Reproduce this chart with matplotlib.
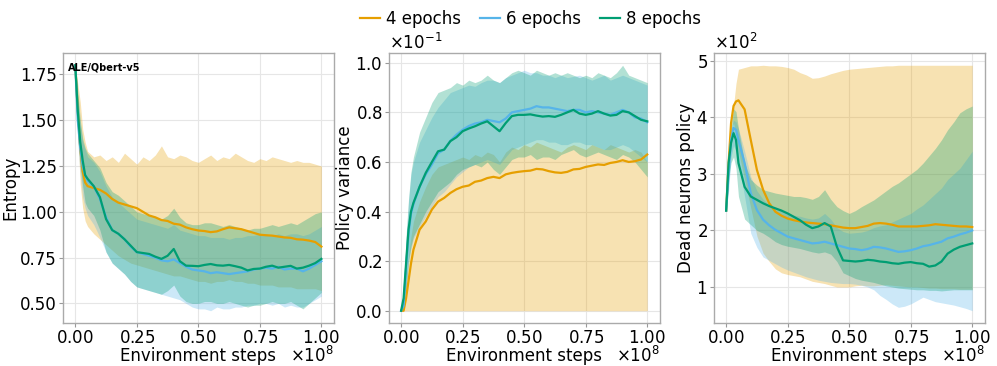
import numpy as np
import matplotlib
matplotlib.use("Agg")
import matplotlib.pyplot as plt

# environment steps, in millions
steps_m = [0, 1, 2, 3, 4, 5, 7.5, 10, 12.5, 15, 17.5, 20, 22.5, 25, 27.5, 30, 32.5, 35,
           37.5, 40, 42.5, 45, 47.5, 50, 52.5, 55, 57.5, 60, 62.5, 65, 67.5, 70, 72.5,
           75, 77.5, 80, 82.5, 85, 87.5, 90, 92.5, 95, 97.5, 100]

labels = ["4 epochs", "6 epochs", "8 epochs"]
colors = ["#E69F00", "#56B4E9", "#009E73"]

# ---- Entropy ----
ent_4_mean = [1.80, 1.55, 1.35, 1.22, 1.16, 1.14, 1.13, 1.12, 1.10, 1.07, 1.05, 1.04, 1.03, 1.02, 1.00,
              0.98, 0.97, 0.955, 0.95, 0.935, 0.93, 0.915, 0.905, 0.898, 0.895, 0.889, 0.893, 0.905,
              0.915, 0.91, 0.905, 0.895, 0.885, 0.875, 0.872, 0.87, 0.865, 0.86, 0.858, 0.85, 0.848,
              0.843, 0.835, 0.81]
ent_4_hi = [1.80, 1.70, 1.60, 1.45, 1.38, 1.33, 1.30, 1.31, 1.28, 1.30, 1.27, 1.32, 1.29, 1.26, 1.30,
            1.28, 1.31, 1.36, 1.30, 1.29, 1.31, 1.30, 1.28, 1.27, 1.29, 1.31, 1.28, 1.30, 1.29, 1.32,
            1.30, 1.28, 1.27, 1.29, 1.28, 1.30, 1.29, 1.28, 1.27, 1.28, 1.27, 1.27, 1.26, 1.25]
ent_4_lo = [1.80, 1.42, 1.15, 1.02, 0.95, 0.92, 0.88, 0.85, 0.82, 0.79, 0.76, 0.74, 0.72, 0.71, 0.70,
            0.69, 0.68, 0.67, 0.66, 0.65, 0.65, 0.64, 0.63, 0.62, 0.62, 0.61, 0.62, 0.62, 0.63, 0.62,
            0.62, 0.61, 0.61, 0.60, 0.60, 0.60, 0.59, 0.59, 0.59, 0.58, 0.58, 0.58, 0.58, 0.57]
ent_6_mean = [1.80, 1.50, 1.35, 1.25, 1.20, 1.17, 1.14, 1.07, 0.97, 0.90, 0.88, 0.85, 0.81, 0.78, 0.77,
              0.76, 0.75, 0.735, 0.73, 0.74, 0.72, 0.70, 0.685, 0.68, 0.675, 0.665, 0.67, 0.665, 0.66,
              0.665, 0.67, 0.675, 0.685, 0.69, 0.695, 0.69, 0.70, 0.685, 0.69, 0.69, 0.675, 0.69,
              0.71, 0.73]
ent_6_hi = [1.80, 1.62, 1.48, 1.38, 1.34, 1.30, 1.27, 1.22, 1.14, 1.08, 1.05, 1.02, 0.99, 0.96, 0.95,
            0.94, 0.93, 0.92, 0.91, 0.93, 0.90, 0.89, 0.88, 0.87, 0.87, 0.86, 0.86, 0.86, 0.85, 0.86,
            0.86, 0.87, 0.87, 0.88, 0.88, 0.87, 0.88, 0.87, 0.88, 0.88, 0.87, 0.88, 0.90, 0.92]
ent_6_lo = [1.80, 1.38, 1.20, 1.08, 1.02, 0.98, 0.93, 0.86, 0.78, 0.72, 0.69, 0.66, 0.62, 0.59, 0.58,
            0.57, 0.56, 0.55, 0.54, 0.53, 0.52, 0.50, 0.48, 0.47, 0.47, 0.46, 0.48, 0.47, 0.47, 0.48,
            0.48, 0.49, 0.49, 0.50, 0.50, 0.49, 0.50, 0.48, 0.49, 0.48, 0.48, 0.50, 0.52, 0.54]
ent_8_mean = [1.80, 1.55, 1.38, 1.28, 1.20, 1.18, 1.14, 1.08, 0.96, 0.90, 0.88, 0.85, 0.815, 0.78,
              0.775, 0.77, 0.755, 0.743, 0.76, 0.797, 0.73, 0.706, 0.705, 0.703, 0.71, 0.715, 0.708,
              0.706, 0.71, 0.703, 0.695, 0.68, 0.688, 0.69, 0.70, 0.706, 0.695, 0.70, 0.705, 0.69,
              0.695, 0.706, 0.72, 0.743]
ent_8_hi = [1.80, 1.66, 1.50, 1.40, 1.35, 1.32, 1.28, 1.24, 1.16, 1.11, 1.09, 1.06, 1.03, 1.00, 0.99,
            0.98, 0.97, 0.96, 0.98, 1.02, 0.97, 0.94, 0.93, 0.93, 0.94, 0.94, 0.93, 0.92, 0.93, 0.92,
            0.91, 0.90, 0.91, 0.91, 0.92, 0.93, 0.92, 0.93, 0.94, 0.93, 0.95, 0.97, 0.99, 1.00]
ent_8_lo = [1.80, 1.42, 1.25, 1.14, 1.05, 1.02, 0.98, 0.90, 0.78, 0.72, 0.69, 0.66, 0.62, 0.59, 0.58,
            0.57, 0.56, 0.55, 0.57, 0.60, 0.54, 0.51, 0.50, 0.50, 0.51, 0.51, 0.50, 0.50, 0.51, 0.50,
            0.49, 0.48, 0.49, 0.49, 0.50, 0.51, 0.50, 0.50, 0.51, 0.49, 0.47, 0.50, 0.53, 0.56]

# ---- Policy variance (in units of 1e-1) ----
var_4_mean = [0.0, 0.0, 0.05, 0.12, 0.19, 0.246, 0.327, 0.36, 0.408, 0.44, 0.455, 0.475, 0.49, 0.50,
              0.505, 0.52, 0.525, 0.535, 0.54, 0.535, 0.55, 0.556, 0.56, 0.563, 0.565, 0.572, 0.57,
              0.563, 0.558, 0.556, 0.56, 0.57, 0.572, 0.58, 0.585, 0.59, 0.588, 0.596, 0.60, 0.607,
              0.60, 0.603, 0.61, 0.63]
var_4_hi = [0.0, 0.02, 0.12, 0.22, 0.30, 0.36, 0.44, 0.50, 0.55, 0.58, 0.59, 0.60, 0.61, 0.62, 0.61,
            0.63, 0.62, 0.64, 0.63, 0.60, 0.64, 0.66, 0.65, 0.67, 0.66, 0.68, 0.67, 0.66, 0.65, 0.64,
            0.66, 0.67, 0.66, 0.65, 0.67, 0.66, 0.65, 0.67, 0.66, 0.65, 0.64, 0.65, 0.64, 0.60]
var_4_lo = [0.0, 0.0, 0.0, 0.0, 0.0, 0.0, 0.0, 0.0, 0.0, 0.0, 0.0, 0.0, 0.0, 0.0, 0.0, 0.0, 0.0,
            0.0, 0.0, 0.0, 0.0, 0.0, 0.0, 0.0, 0.0, 0.0, 0.0, 0.0, 0.0, 0.0, 0.0, 0.0, 0.0, 0.0,
            0.0, 0.0, 0.0, 0.0, 0.0, 0.0, 0.0, 0.0, 0.0, 0.0]
var_6_mean = [0.0, 0.02, 0.17, 0.31, 0.39, 0.43, 0.50, 0.55, 0.59, 0.635, 0.65, 0.685, 0.71, 0.73,
              0.745, 0.755, 0.76, 0.77, 0.765, 0.76, 0.775, 0.80, 0.805, 0.81, 0.815, 0.825, 0.82,
              0.82, 0.815, 0.81, 0.805, 0.81, 0.81, 0.80, 0.805, 0.80, 0.795, 0.79, 0.80, 0.81, 0.80,
              0.78, 0.775, 0.76]
var_6_hi = [0.0, 0.06, 0.28, 0.44, 0.55, 0.60, 0.68, 0.73, 0.78, 0.82, 0.85, 0.88, 0.89, 0.90, 0.91,
            0.905, 0.92, 0.93, 0.93, 0.92, 0.94, 0.95, 0.96, 0.97, 0.96, 0.96, 0.95, 0.95, 0.94, 0.95,
            0.94, 0.945, 0.95, 0.94, 0.93, 0.94, 0.95, 0.93, 0.94, 0.95, 0.94, 0.93, 0.92, 0.91]
var_6_lo = [0.0, 0.0, 0.08, 0.19, 0.25, 0.29, 0.34, 0.38, 0.42, 0.46, 0.48, 0.51, 0.54, 0.56, 0.58,
            0.59, 0.60, 0.61, 0.60, 0.59, 0.62, 0.65, 0.66, 0.67, 0.68, 0.69, 0.69, 0.68, 0.68, 0.67,
            0.67, 0.68, 0.68, 0.67, 0.67, 0.66, 0.65, 0.65, 0.66, 0.67, 0.66, 0.64, 0.62, 0.60]
var_8_mean = [0.0, 0.05, 0.19, 0.327, 0.40, 0.435, 0.50, 0.556, 0.60, 0.643, 0.65, 0.684, 0.70, 0.724,
              0.735, 0.744, 0.755, 0.764, 0.744, 0.724, 0.757, 0.785, 0.79, 0.79, 0.792, 0.787, 0.783,
              0.785, 0.782, 0.79, 0.80, 0.81, 0.795, 0.79, 0.795, 0.805, 0.795, 0.787, 0.79, 0.805,
              0.80, 0.785, 0.77, 0.764]
var_8_hi = [0.0, 0.10, 0.30, 0.45, 0.56, 0.62, 0.72, 0.78, 0.84, 0.88, 0.89, 0.90, 0.92, 0.91, 0.93,
            0.92, 0.93, 0.95, 0.93, 0.92, 0.94, 0.96, 0.97, 0.96, 0.95, 0.97, 0.96, 0.95, 0.96, 0.95,
            0.96, 0.95, 0.94, 0.95, 0.94, 0.96, 0.95, 0.94, 0.96, 0.99, 0.95, 0.94, 0.93, 0.92]
var_8_lo = [0.0, 0.01, 0.09, 0.20, 0.26, 0.30, 0.35, 0.40, 0.44, 0.48, 0.50, 0.52, 0.55, 0.57, 0.58,
            0.59, 0.58, 0.60, 0.57, 0.55, 0.58, 0.61, 0.62, 0.62, 0.63, 0.61, 0.62, 0.62, 0.61, 0.63,
            0.64, 0.65, 0.63, 0.62, 0.63, 0.64, 0.63, 0.62, 0.61, 0.63, 0.62, 0.60, 0.57, 0.54]

# ---- Dead neurons (in units of 1e2) ----
dead_4_mean = [2.35, 3.19, 3.9, 4.2, 4.28, 4.3, 4.14, 3.6, 3.07, 2.72, 2.48, 2.33, 2.26, 2.21, 2.18,
               2.16, 2.14, 2.13, 2.12, 2.11, 2.09, 2.07, 2.05, 2.04, 2.04, 2.06, 2.08, 2.12, 2.13,
               2.12, 2.10, 2.07, 2.07, 2.07, 2.07, 2.08, 2.09, 2.11, 2.10, 2.09, 2.08, 2.07, 2.07, 2.06]
dead_4_hi = [2.35, 3.0, 3.6, 4.2, 4.6, 4.85, 4.88, 4.91, 4.91, 4.92, 4.91, 4.91, 4.90, 4.88, 4.85,
             4.79, 4.75, 4.69, 4.70, 4.73, 4.77, 4.80, 4.83, 4.85, 4.86, 4.87, 4.88, 4.89, 4.90, 4.91,
             4.91, 4.92, 4.92, 4.92, 4.92, 4.92, 4.92, 4.92, 4.92, 4.92, 4.92, 4.92, 4.92, 4.92]
dead_4_lo = [2.35, 3.3, 3.8, 3.9, 3.7, 3.4, 2.9, 2.4, 1.9, 1.6, 1.45, 1.32, 1.25, 1.22, 1.20, 1.18,
             1.14, 1.10, 1.08, 1.06, 1.03, 1.00, 1.00, 1.00, 1.02, 1.03, 1.02, 1.02, 1.03, 1.04, 1.03,
             1.02, 1.01, 1.00, 1.00, 0.99, 0.98, 0.98, 0.97, 0.97, 0.97, 0.96, 0.96, 0.96]
dead_6_mean = [2.35, 3.0, 3.6, 3.81, 3.78, 3.6, 3.19, 2.66, 2.36, 2.19, 2.09, 2.01, 1.95, 1.89, 1.86,
               1.83, 1.80, 1.77, 1.78, 1.80, 1.77, 1.74, 1.71, 1.68, 1.67, 1.65, 1.67, 1.71, 1.70,
               1.68, 1.65, 1.62, 1.63, 1.65, 1.68, 1.72, 1.74, 1.77, 1.80, 1.86, 1.89, 1.93, 1.96, 2.0]
dead_6_hi = [2.35, 3.3, 3.8, 3.95, 3.92, 3.8, 3.4, 2.95, 2.7, 2.55, 2.45, 2.40, 2.35, 2.30, 2.27,
             2.25, 2.22, 2.20, 2.22, 2.30, 2.20, 2.05, 1.98, 1.95, 1.96, 1.97, 2.00, 2.05, 2.08, 2.10,
             2.15, 2.20, 2.25, 2.30, 2.38, 2.45, 2.55, 2.65, 2.75, 2.90, 3.00, 3.10, 3.25, 3.40]
dead_6_lo = [2.35, 2.7, 3.3, 3.5, 3.4, 3.2, 2.6, 1.95, 1.7, 1.53, 1.47, 1.41, 1.35, 1.30, 1.26, 1.22,
             1.18, 1.15, 1.12, 1.10, 1.08, 1.07, 1.06, 1.06, 1.05, 1.03, 1.00, 0.95, 0.85, 0.78, 0.70,
             0.64, 0.66, 0.70, 0.76, 0.82, 0.78, 0.74, 0.72, 0.70, 0.68, 0.65, 0.62, 0.58]
dead_8_mean = [2.35, 3.2, 3.55, 3.72, 3.6, 3.19, 2.77, 2.6, 2.54, 2.48, 2.43, 2.39, 2.35, 2.30, 2.24,
               2.18, 2.10, 2.04, 2.07, 2.13, 2.07, 1.71, 1.47, 1.46, 1.45, 1.46, 1.48, 1.47, 1.45,
               1.44, 1.42, 1.41, 1.43, 1.44, 1.42, 1.41, 1.36, 1.38, 1.45, 1.59, 1.66, 1.71, 1.74, 1.77]
dead_8_hi = [2.35, 3.5, 3.9, 4.15, 4.1, 3.8, 3.2, 2.9, 2.8, 2.72, 2.69, 2.66, 2.64, 2.62, 2.60, 2.60,
             2.58, 2.55, 2.60, 2.72, 2.55, 2.42, 2.35, 2.30, 2.35, 2.42, 2.48, 2.54, 2.62, 2.70, 2.78,
             2.84, 2.92, 3.00, 3.08, 3.19, 3.32, 3.45, 3.60, 3.78, 3.92, 4.08, 4.15, 4.20]
dead_8_lo = [2.35, 2.9, 3.2, 3.3, 3.1, 2.6, 2.2, 2.1, 2.0, 1.95, 1.88, 1.80, 1.75, 1.72, 1.70, 1.68,
             1.65, 1.62, 1.60, 1.62, 1.58, 1.45, 1.25, 1.20, 1.15, 1.12, 1.10, 1.08, 1.05, 1.02, 1.00,
             0.98, 0.97, 0.96, 0.95, 0.95, 0.94, 0.94, 0.93, 0.94, 0.95, 0.95, 0.95, 0.95]

steps = np.array(steps_m) * 1e6

panels = [
    ("Entropy", 1.0, [(ent_4_mean, ent_4_lo, ent_4_hi), (ent_6_mean, ent_6_lo, ent_6_hi),
                      (ent_8_mean, ent_8_lo, ent_8_hi)]),
    ("Policy variance", 1e-1, [(var_4_mean, var_4_lo, var_4_hi), (var_6_mean, var_6_lo, var_6_hi),
                               (var_8_mean, var_8_lo, var_8_hi)]),
    ("Dead neurons policy", 1e2, [(dead_4_mean, dead_4_lo, dead_4_hi),
                                  (dead_6_mean, dead_6_lo, dead_6_hi),
                                  (dead_8_mean, dead_8_lo, dead_8_hi)]),
]

fs = 12
fig = plt.figure(figsize=(9.97, 3.66), dpi=100)
lefts = [0.0632, 0.390, 0.716]
axes = [fig.add_axes([l, 0.1175, 0.2715, 0.7377]) for l in lefts]

for ax, (ylabel, scale, series) in zip(axes, panels):
    for (m, lo, hi), c, lab in zip(series, colors, labels):
        ax.fill_between(steps, np.array(lo) * scale, np.array(hi) * scale,
                        color=c, alpha=0.3, linewidth=0)
        ax.plot(steps, np.array(m) * scale, color=c, lw=1.6, label=lab)
    ax.set_xlabel("Environment steps", fontsize=fs, labelpad=0)
    ax.set_ylabel(ylabel, fontsize=fs, labelpad=0.5)
    ax.set_xticks([0, 0.25e8, 0.5e8, 0.75e8, 1e8])
    ax.ticklabel_format(axis="x", style="sci", scilimits=(0, 0), useMathText=True)
    if scale != 1.0:
        ax.ticklabel_format(axis="y", style="sci", scilimits=(0, 0), useMathText=True)
    ax.tick_params(labelsize=fs, color="#999999", length=3, pad=1.5)
    ax.xaxis.OFFSETTEXTPAD = -1
    ax.xaxis.get_offset_text().set_fontsize(fs)
    ax.yaxis.get_offset_text().set_fontsize(fs)
    ax.grid(True, color="#e6e6e6", lw=0.8)
    ax.set_axisbelow(True)
    for s in ax.spines.values():
        s.set_color("#aaaaaa")
        s.set_linewidth(1.0)

axes[0].set_yticks([0.5, 0.75, 1.0, 1.25, 1.5, 1.75])
axes[0].text(0.02, 0.965, "ALE/Qbert-v5", transform=axes[0].transAxes,
             fontsize=7, fontweight="bold", va="top", ha="left")

handles, labs = axes[0].get_legend_handles_labels()
fig.legend(handles, labs, loc="upper center", bbox_to_anchor=(0.532, 1.015), ncol=3,
           frameon=False, fontsize=fs, handlelength=1.2, columnspacing=1.1, handletextpad=0.4)

fig.savefig("out.png", dpi=100)
